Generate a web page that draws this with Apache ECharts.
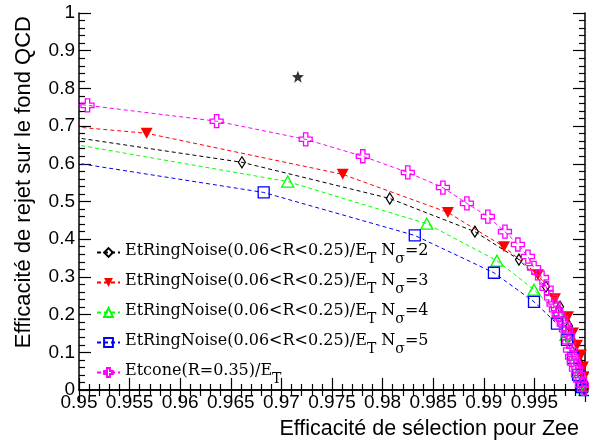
<!DOCTYPE html>
<html>
<head>
<meta charset="utf-8">
<script src="https://cdn.jsdelivr.net/npm/echarts@6/dist/echarts.min.js"></script>
<style>
html,body{margin:0;padding:0;background:#fff;}
#chart{width:589px;height:443px;}
</style>
</head>
<body>
<div id="chart"></div>
<script>
// ---- data ----
const xTitle = "Efficacité de sélection pour Zee";
const yTitle = "Efficacité de rejet sur le fond QCD";
const xMin = 0.95, xMax = 1.0, xStep = 0.005;
const yMin = 0, yMax = 1, yStep = 0.1;

const n2X = [0.940, 0.9661, 0.98071, 0.98912, 0.99347, 0.99614, 0.99753, 0.99842, 0.99901, 0.99951, 0.99980, 1.0];
const n2Y = [0.708, 0.604, 0.508, 0.420, 0.346, 0.274, 0.221, 0.170, 0.120, 0.070, 0.030, 0.0];

const n3X = [0.940, 0.95668, 0.97606, 0.98645, 0.99199, 0.99535, 0.99703, 0.99832, 0.99881, 0.99921, 0.99960, 0.99980, 0.9999, 1.0];
const n3Y = [0.721, 0.681, 0.572, 0.471, 0.380, 0.306, 0.242, 0.194, 0.151, 0.119, 0.093, 0.061, 0.035, 0.0];

const n4X = [0.940, 0.97062, 0.98437, 0.99130, 0.99496, 0.99733, 0.99812, 0.99891, 0.99950, 1.0];
const n4Y = [0.696, 0.553, 0.441, 0.343, 0.266, 0.204, 0.146, 0.093, 0.048, 0.0];

const n5X = [0.940, 0.96825, 0.98318, 0.99100, 0.99496, 0.99723, 0.99822, 0.99881, 0.99931, 0.9997, 1.0];
const n5Y = [0.643, 0.524, 0.410, 0.311, 0.234, 0.176, 0.133, 0.085, 0.040, 0.008, 0.0];

const etX = [0.940, 0.95084, 0.9636, 0.9724, 0.97804, 0.98249, 0.98596, 0.98833, 0.9904, 0.99209, 0.99337, 0.99436, 0.99496, 0.99575, 0.99620, 0.99664, 0.99690, 0.99713, 0.99740, 0.99763, 0.99790, 0.99812, 0.99830, 0.99842, 0.99852, 0.99872, 0.99891, 0.99911, 0.99931, 0.99951, 0.9997, 0.9999];
const etY = [0.791, 0.755, 0.713, 0.665, 0.620, 0.577, 0.537, 0.495, 0.460, 0.420, 0.386, 0.354, 0.324, 0.298, 0.270, 0.245, 0.228, 0.213, 0.200, 0.191, 0.175, 0.160, 0.145, 0.128, 0.106, 0.088, 0.072, 0.056, 0.040, 0.027, 0.013, 0.003];

const starX = [0.97163];
const starY = [0.831];

const legendNames = ["n2", "n3", "n4", "n5", "etcone"];
const legendLabels = {
  n2: "{m|EtRingNoise(0.06<R<0.25)/E}{s|T}{m| N}{s|σ}{m|=2}",
  n3: "{m|EtRingNoise(0.06<R<0.25)/E}{s|T}{m| N}{s|σ}{m|=3}",
  n4: "{m|EtRingNoise(0.06<R<0.25)/E}{s|T}{m| N}{s|σ}{m|=4}",
  n5: "{m|EtRingNoise(0.06<R<0.25)/E}{s|T}{m| N}{s|σ}{m|=5}",
  etcone: "{m|Etcone(R=0.35)/E}{s|T}"
};

// ---- build ----
function pairs(xs, ys){ return xs.map((x,i)=>[x, ys[i]]); }
const crossPath = 'path://M4,0 L8,0 L8,4 L12,4 L12,8 L8,8 L8,12 L4,12 L4,8 L0,8 L0,4 L4,4 Z';
const starPath = 'path://M12,1 L14.9,8.6 L23,8.9 L16.7,14 L18.8,22 L12,17.4 L5.2,22 L7.3,14 L1,8.9 L9.1,8.6 Z';
const dash = [4, 3];
const clear = 'rgba(0,0,0,0)';

function lineSeries(name, xs, ys, color, symbol, size, filled, rotate){
  return {
    name: name, type: 'line', data: pairs(xs, ys),
    symbol: symbol, symbolSize: size, symbolRotate: rotate || 0,
    showAllSymbol: true, clip: true, z: 3,
    lineStyle: {color: color, width: 1, type: dash},
    itemStyle: {color: filled ? color : clear, borderColor: color, borderWidth: filled ? 0 : 1.3},
    emphasis: {disabled: true}
  };
}

const axisCommon = {
  type: 'value',
  axisLine: {show: true, lineStyle: {color: '#000', width: 1.5}},
  axisTick: {show: true, inside: true, length: 12, lineStyle: {color: '#000', width: 1.2}},
  minorTick: {show: true, splitNumber: 5, length: 6, lineStyle: {color: '#000', width: 1.2}},
  splitLine: {show: false},
  minorSplitLine: {show: false}
};

const chart = echarts.init(document.getElementById('chart'), null, {renderer: 'canvas'});
chart.setOption({
  animation: false,
  backgroundColor: '#fff',
  grid: {left: 79, right: 4, top: 13, bottom: 53, containLabel: false},
  xAxis: [
    Object.assign({}, axisCommon, {
      min: xMin, max: xMax, interval: xStep, position: 'bottom',
      axisLabel: {show: true, fontFamily: 'Liberation Sans', fontSize: 19, color: '#000', margin: 3, showMaxLabel: false, showMinLabel: true}
    }),
    Object.assign({}, axisCommon, {
      min: xMin, max: xMax, interval: xStep, position: 'top',
      axisLabel: {show: false}
    })
  ],
  yAxis: [
    Object.assign({}, axisCommon, {
      min: yMin, max: yMax, interval: yStep, position: 'left',
      axisLabel: {show: true, fontFamily: 'Liberation Sans', fontSize: 19, color: '#000', margin: 4}
    }),
    Object.assign({}, axisCommon, {
      min: yMin, max: yMax, interval: yStep, position: 'right',
      axisLabel: {show: false}
    })
  ],
  legend: {
    orient: 'vertical', left: 96, top: 243, itemGap: 7, padding: 0,
    itemWidth: 23, itemHeight: 11,
    data: legendNames,
    formatter: function(n){ return legendLabels[n]; },
    textStyle: {
      color: '#000', fontFamily: 'DejaVu Serif', fontSize: 16,
      rich: {
        m: {fontFamily: 'DejaVu Serif', fontSize: 16, color: '#000', lineHeight: 19, verticalAlign: 'top'},
        s: {fontFamily: 'DejaVu Serif', fontSize: 14, color: '#000', lineHeight: 14, padding: [9, 0, 0, 0], verticalAlign: 'top'}
      }
    }
  },
  series: [
    lineSeries('n2', n2X, n2Y, '#000000', 'diamond', [7, 11], false),
    lineSeries('n3', n3X, n3Y, '#ff0000', 'triangle', [12, 11], true, 180),
    lineSeries('n4', n4X, n4Y, '#00ff00', 'triangle', [12, 11], false),
    lineSeries('n5', n5X, n5Y, '#0000ff', 'rect', [11, 11], false),
    lineSeries('etcone', etX, etY, '#ff00ff', crossPath, [13, 13], false),
    {
      name: 'star', type: 'scatter', data: pairs(starX, starY),
      symbol: starPath, symbolSize: 12, itemStyle: {color: '#000'}, z: 4
    }
  ],
  graphic: [
    {type: 'text', x: 579, y: 429, style: {text: xTitle, fontFamily: 'Liberation Sans', fontSize: 21.5, fill: '#000', textAlign: 'right', textVerticalAlign: 'middle'}},
    {type: 'text', x: 24, y: 16, rotation: Math.PI / 2, style: {text: yTitle, fontFamily: 'Liberation Sans', fontSize: 22, fill: '#000', textAlign: 'right', textVerticalAlign: 'middle'}}
  ]
});
</script>
</body>
</html>
